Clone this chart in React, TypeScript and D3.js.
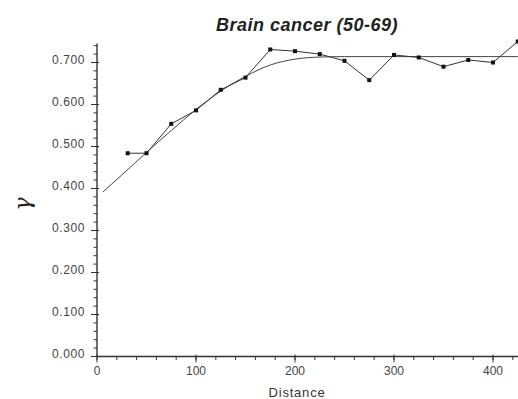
import React, { useEffect, useRef } from "react";
import * as d3 from "d3";

// empirical semivariogram (distance, gamma)
const distances = [31, 50, 75, 100, 125, 150, 175, 200, 225, 250, 275, 300, 325, 350, 375, 400, 425];
const gammaValues = [0.484, 0.484, 0.554, 0.586, 0.635, 0.664, 0.731, 0.727, 0.720, 0.704, 0.658, 0.718, 0.712, 0.690, 0.706, 0.700, 0.750];

// fitted model curve
const modelDist = [6, 25, 50, 75, 100, 125, 150, 175, 200, 225, 250, 425];
const modelGamma = [0.392, 0.432, 0.486, 0.538, 0.588, 0.632, 0.667, 0.694, 0.708, 0.713, 0.714, 0.714];

const yTicks = [0, 0.1, 0.2, 0.3, 0.4, 0.5, 0.6, 0.7];
const xTicks = [0, 100, 200, 300, 400];

const W = 518;
const H = 399;

export default function App() {
  const ref = useRef<SVGSVGElement>(null);

  useEffect(() => {
    const svg = d3.select(ref.current);
    svg.selectAll("*").remove();

    const x = d3.scaleLinear().domain([0, 425]).range([97, 517.75]);
    const y = d3.scaleLinear().domain([0, 0.745]).range([356.5, 43.6]);
    const font = "Arial, 'Liberation Sans', sans-serif";

    // x axis with minor ticks every 20
    const gx = svg.append("g").attr("transform", `translate(0,${y(0)})`);
    gx.append("line").attr("x1", x(0)).attr("x2", W).attr("stroke", "#333").attr("stroke-width", 1.4);
    gx.selectAll("line.minor").data(d3.range(0, 426, 20)).join("line")
      .attr("class", "minor")
      .attr("x1", (d) => x(d)).attr("x2", (d) => x(d))
      .attr("y1", 0).attr("y2", 3.5).attr("stroke", "#333");
    gx.selectAll("line.major").data(xTicks).join("line")
      .attr("class", "major")
      .attr("x1", (d) => x(d)).attr("x2", (d) => x(d))
      .attr("y1", -2).attr("y2", 6).attr("stroke", "#333");
    gx.selectAll("text").data(xTicks).join("text")
      .attr("x", (d) => x(d)).attr("y", 18)
      .attr("text-anchor", "middle")
      .attr("font-family", font).attr("font-size", 12).attr("fill", "#444")
      .text((d) => d);

    // y axis with minor ticks every 0.02
    const gy = svg.append("g").attr("transform", `translate(${x(0)},0)`);
    gy.append("line").attr("y1", y(0)).attr("y2", y(0.745)).attr("stroke", "#333").attr("stroke-width", 1.4);
    gy.selectAll("line.minor").data(d3.range(0, 0.745, 0.02)).join("line")
      .attr("class", "minor")
      .attr("y1", (d) => y(d)).attr("y2", (d) => y(d))
      .attr("x1", 0).attr("x2", -3.5).attr("stroke", "#333");
    gy.selectAll("line.major").data(yTicks).join("line")
      .attr("class", "major")
      .attr("y1", (d) => y(d)).attr("y2", (d) => y(d))
      .attr("x1", 2).attr("x2", -6).attr("stroke", "#333");
    gy.selectAll("text").data(yTicks).join("text")
      .attr("x", -12).attr("y", (d) => y(d) + 1.5)
      .attr("text-anchor", "end")
      .attr("font-family", font).attr("font-size", 12)
      .attr("letter-spacing", 0.6).attr("fill", "#444")
      .text((d) => d3.format(".3f")(d));

    // model curve
    const modelPts = modelDist.map((d, i) => [d, modelGamma[i]] as [number, number]);
    svg.append("path")
      .datum(modelPts)
      .attr("fill", "none").attr("stroke", "#444").attr("stroke-width", 1)
      .attr("d", d3.line<[number, number]>().x((d) => x(d[0])).y((d) => y(d[1])).curve(d3.curveMonotoneX));

    // empirical points
    const pts = distances.map((d, i) => [d, gammaValues[i]] as [number, number]);
    svg.append("path")
      .datum(pts)
      .attr("fill", "none").attr("stroke", "#333").attr("stroke-width", 1)
      .attr("d", d3.line<[number, number]>().x((d) => x(d[0])).y((d) => y(d[1])));
    svg.selectAll("rect.pt").data(pts).join("rect")
      .attr("class", "pt")
      .attr("x", (d) => x(d[0]) - 2).attr("y", (d) => y(d[1]) - 2)
      .attr("width", 4).attr("height", 4).attr("fill", "#111");

    // title and labels
    svg.append("text")
      .attr("x", 307).attr("y", 31)
      .attr("text-anchor", "middle")
      .attr("font-family", font).attr("font-size", 18)
      .attr("letter-spacing", 0.5)
      .attr("font-weight", "bold").attr("font-style", "italic").attr("fill", "#222")
      .text("Brain cancer (50-69)");
    svg.append("text")
      .attr("x", 297).attr("y", 397)
      .attr("text-anchor", "middle")
      .attr("font-family", font).attr("font-size", 13)
      .attr("letter-spacing", 0.8).attr("fill", "#333")
      .text("Distance");
    svg.append("text")
      .attr("transform", "translate(30,204) rotate(-90)")
      .attr("text-anchor", "middle")
      .attr("font-family", "'DejaVu Serif', serif").attr("font-size", 22)
      .attr("font-style", "italic").attr("fill", "#222")
      .text("γ");
  }, []);

  return (
    <svg
      ref={ref}
      width={W}
      height={H}
      style={{ position: "absolute", left: 0, top: 0, background: "#fff" }}
    />
  );
}
